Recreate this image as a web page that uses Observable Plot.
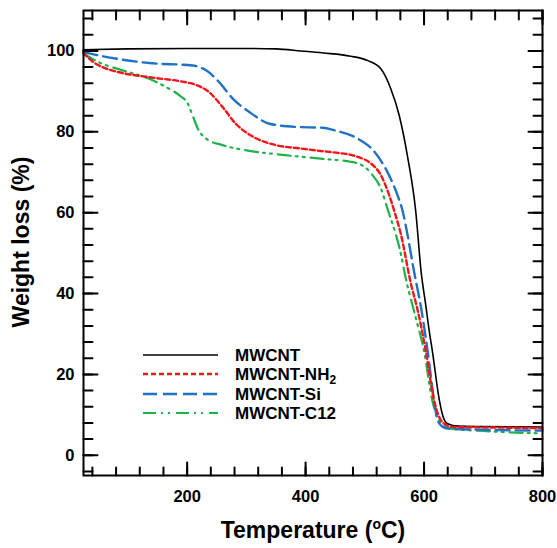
<!DOCTYPE html>
<html><head><meta charset="utf-8">
<script src="https://cdn.jsdelivr.net/npm/d3@7"></script>
<script src="https://cdn.jsdelivr.net/npm/@observablehq/plot@0.6"></script>
<style>
body{margin:0;background:#fff}
#chart{width:557px;height:548px}
</style>
</head><body><div id="chart"></div>
<script>
// ---- data ----
const tBlack = [25, 100, 200, 300, 350, 392, 430, 476, 505, 527, 544, 558, 572, 586, 595, 603, 609, 614, 626, 632, 640, 657, 700, 800];
const wBlack = [100.3, 100.5, 100.6, 100.6, 100.5, 100.0, 99.5, 98.7, 97.6, 95.6, 90.6, 84.1, 74.0, 60.3, 45.5, 37.0, 30.5, 25.8, 13.5, 9.6, 7.8, 7.2, 7.1, 7.0];

const tNH2 = [25, 42, 57, 80, 136, 192, 215, 237, 260, 282, 311, 350, 390, 429, 448, 488, 510, 527, 541, 550, 561, 578, 589, 603, 617, 627, 634, 650, 700, 800];
const wNH2 = [99.5, 97.2, 96.0, 94.9, 93.5, 92.4, 91.6, 89.8, 86.1, 82.0, 78.8, 76.7, 75.9, 75.2, 74.9, 73.8, 72.2, 69.3, 64.4, 60.3, 54.6, 42.3, 36.0, 25.8, 13.5, 9.0, 7.8, 7.0, 6.9, 6.7];

const tSi = [25, 57, 136, 209, 232, 254, 277, 305, 339, 384, 429, 448, 488, 516, 538, 555, 564, 572, 583, 595, 606, 617, 623, 632, 640, 700, 800];
const wSi = [99.7, 98.7, 97.0, 96.4, 95.2, 92.3, 88.2, 84.9, 82.0, 81.2, 81.0, 80.4, 78.3, 75.1, 70.1, 64.4, 60.3, 54.6, 45.5, 36.5, 25.8, 13.5, 8.6, 7.0, 6.6, 6.3, 6.1];

const tC12 = [25, 57, 91, 136, 164, 187, 201, 209, 218, 232, 260, 305, 361, 429, 476, 499, 513, 527, 538, 561, 569, 586, 600, 614, 629, 645, 700, 800];
const wC12 = [99.3, 96.8, 95.2, 93.1, 91.1, 89.0, 87.0, 84.1, 80.8, 78.3, 76.7, 75.3, 74.3, 73.3, 72.6, 71.4, 69.3, 66.0, 61.1, 49.7, 43.9, 34.0, 25.8, 13.5, 7.8, 6.6, 6.0, 5.4];

const seriesNames = ["MWCNT", "MWCNT-NH", "MWCNT-Si", "MWCNT-C12"];
const seriesColors = ["#000000", "#f5141a", "#1f72c4", "#1db34b"];
const seriesDash = [null, "5,3", "14,6", "13,5,2,5,2,6"];
const seriesWidth = [1.6, 2.4, 2.4, 2.2];

const xMajor = [200, 400, 600, 800];
const xMinor = [40, 80, 120, 160, 200, 240, 280, 320, 360, 400, 440, 480, 520, 560, 600, 640, 680, 720, 760, 800];
const yMajor = [0, 20, 40, 60, 80, 100];
const yMinor = [-4, 0, 4, 8, 12, 16, 20, 24, 28, 32, 36, 40, 44, 48, 52, 56, 60, 64, 68, 72, 76, 80, 84, 88, 92, 96, 100, 104, 108];

const series = [[tBlack, wBlack], [tNH2, wNH2], [tSi, wSi], [tC12, wC12]]
  .map(([t, w], k) => t.map((x, i) => ({t: x, w: w[i], k})));

const font = "'Liberation Sans', Arial, sans-serif";
const labelOpts = {tickSize: 0, label: null, fontSize: 16.5, fontWeight: "bold", fill: "#000"};

// inward tick marks drawn as plain line vectors
const tickShape = {draw(ctx, l) { ctx.moveTo(0, 0); ctx.lineTo(0, -l); }};
function ticks(values, side, len) {
  const isX = side === "bottom" || side === "top";
  const rotate = {bottom: 0, top: 180, left: 90, right: -90}[side];
  return Plot.vector(values, {
    [isX ? "x" : "y"]: d => d,
    frameAnchor: side, rotate, length: len, anchor: "start",
    shape: tickShape, stroke: "#000", strokeWidth: 2
  });
}

const drawOrder = [0, 3, 2, 1];

const plot = Plot.plot({
  width: 557, height: 548,
  marginLeft: 83, marginRight: 15, marginTop: 10, marginBottom: 73,
  style: {fontFamily: font, background: "#fff", color: "#000"},
  x: {domain: [25, 800], label: null},
  y: {domain: [-5, 110], label: null},
  marks: [
    ...drawOrder.map(k => Plot.line(series[k], {
      x: "t", y: "w", stroke: seriesColors[k], strokeWidth: seriesWidth[k],
      strokeDasharray: seriesDash[k], curve: "monotone-x"
    })),
    ticks(xMinor, "bottom", 8), ticks(xMajor, "bottom", 13),
    ticks(xMinor, "top", 9), ticks(xMajor, "top", 14),
    ticks(yMinor, "left", 9), ticks(yMajor, "left", 14),
    ticks(yMinor, "right", 9), ticks(yMajor, "right", 14),
    Plot.axisX(xMajor, {anchor: "bottom", tickPadding: 15, ...labelOpts}),
    Plot.axisY(yMajor, {anchor: "left", tickPadding: 9, ...labelOpts}),
    Plot.frame({stroke: "#000", strokeWidth: 2})
  ]
});

document.getElementById("chart").appendChild(plot);

// ---- titles and legend ----
const svg = d3.select(plot);
const xt = svg.append("text")
  .attr("x", 313).attr("y", 538)
  .attr("text-anchor", "middle")
  .attr("font-family", font).attr("font-weight", "bold").attr("font-size", 23)
  .attr("fill", "#000");
xt.append("tspan").text("Temperature (");
xt.append("tspan").attr("font-size", 14).attr("dy", -9).text("o");
xt.append("tspan").attr("dy", 9).text("C)");

svg.append("text")
  .attr("transform", "translate(29,242) rotate(-90)")
  .attr("text-anchor", "middle")
  .attr("font-family", font).attr("font-weight", "bold").attr("font-size", 23)
  .attr("fill", "#000")
  .text("Weight loss (%)");

const legendRows = [355, 374, 394, 413];
const lg = svg.append("g");
seriesNames.forEach((name, k) => {
  const y = legendRows[k];
  lg.append("line").attr("x1", 143).attr("x2", 218).attr("y1", y).attr("y2", y)
    .attr("stroke", seriesColors[k]).attr("stroke-width", seriesWidth[k])
    .attr("stroke-dasharray", seriesDash[k]);
  const t = lg.append("text").attr("x", 235).attr("y", y).attr("dy", "0.36em")
    .attr("text-anchor", "start")
    .attr("font-family", font).attr("font-weight", "bold").attr("font-size", 17)
    .attr("fill", "#000");
  t.append("tspan").text(name);
  if (k === 1) t.append("tspan").attr("font-size", 12).attr("dy", 4).text("2");
});
</script>
</body></html>
